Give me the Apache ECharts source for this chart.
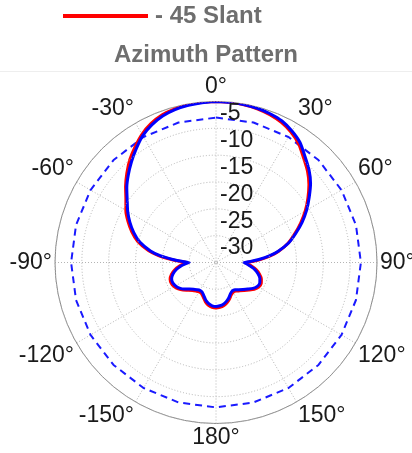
<!DOCTYPE html>
<html>
<head>
<meta charset="utf-8">
<script src="https://cdn.jsdelivr.net/npm/echarts@6/dist/echarts.min.js"></script>
<style>
html,body{margin:0;padding:0;background:#fff;}
#chart{width:412px;height:453px;}
</style>
</head>
<body>
<div id="chart"></div>
<script>
// Angles (degrees, clockwise from top)
const angles = [0,5,10,15,20,25,30,35,40,45,50,55,60,65,70,75,80,83,86,88,90,92,95,100,105,110,115,120,125,130,135,140,145,150,155,160,165,170,175,180,185,190,195,200,205,210,215,220,225,230,235,240,245,250,255,260,265,268,270,272,274,277,280,285,290,295,300,305,310,315,320,325,330,335,340,345,350,355,360];
// Blue trace (dB)
const blueDb = [0,-0.05,-0.1,-0.25,-0.5,-0.9,-1.7,-2.7,-4.2,-5.5,-7.0,-8.8,-10.5,-12.3,-14.2,-16.0,-18.3,-20.0,-22.0,-23.4,-24.8,-24.4,-23.8,-22.7,-21.9,-21.3,-21.0,-21.1,-21.6,-22.3,-22.9,-23.4,-23.8,-23.9,-23.6,-23.0,-22.5,-22.1,-21.9,-21.8,-21.9,-22.2,-22.7,-23.4,-23.9,-24.0,-23.8,-23.5,-23.0,-22.3,-21.7,-21.3,-21.1,-21.2,-21.7,-22.5,-23.6,-24.4,-25.0,-23.6,-21.9,-19.5,-17.6,-15.3,-13.7,-12.3,-11.0,-9.8,-8.3,-6.9,-5.5,-4.1,-2.7,-1.7,-0.95,-0.5,-0.25,-0.1,0];
// Red trace "- 45 Slant" (dB)
const slantDb = [0,-0.05,-0.15,-0.35,-0.7,-1.2,-2.0,-3.1,-4.6,-5.9,-7.4,-9.1,-10.8,-12.6,-14.4,-16.1,-18.2,-19.8,-21.6,-23.0,-24.6,-24.2,-23.5,-22.4,-21.6,-21.0,-20.7,-20.8,-21.3,-22.0,-22.6,-23.1,-23.5,-23.6,-23.3,-22.7,-22.2,-21.8,-21.6,-21.5,-21.6,-21.9,-22.4,-23.1,-23.6,-23.7,-23.5,-23.2,-22.7,-22.0,-21.4,-21.0,-20.8,-20.9,-21.4,-22.2,-23.3,-24.1,-24.8,-23.2,-21.5,-19.1,-17.2,-14.9,-13.3,-11.9,-10.6,-9.5,-8.0,-6.5,-5.0,-3.7,-2.4,-1.4,-0.7,-0.35,-0.15,-0.05,0];
// -3 dB reference (dashed circle)
const refAngles = [0,15,30,45,60,75,90,105,120,135,150,165,180,195,210,225,240,255,270,285,300,315,330,345,360];
const refDb = [-3,-3,-3,-3,-3,-3,-3,-3,-3,-3,-3,-3,-3,-3,-3,-3,-3,-3,-3,-3,-3,-3,-3,-3,-3];
// Tick labels
const angleLabels = ['0°','30°','60°','90°','120°','150°','180°','-150°','-120°','-90°','-60°','-30°'];
const radialLabels = ['-30','-25','-20','-15','-10','-5',''];

const seriesName = '- 45 Slant';
const titleText = 'Azimuth Pattern';

const pair = (vals, angs) => vals.map((v, i) => [v, angs[i]]);

const chart = echarts.init(document.getElementById('chart'), null, {renderer: 'canvas'});
chart.setOption({
  animation: false,
  backgroundColor: '#ffffff',
  textStyle: {fontFamily: '"Liberation Sans", Arial, sans-serif'},
  title: {
    text: titleText,
    left: 'center',
    top: 43,
    padding: 0,
    textStyle: {fontSize: 24, fontWeight: 'bold', color: '#6e6e6e', fontFamily: '"Liberation Sans", Arial, sans-serif'}
  },
  legend: {
    data: [{name: seriesName, icon: 'rect'}],
    left: 63,
    top: 4,
    padding: 0,
    itemWidth: 85,
    itemHeight: 4,
    itemGap: 0,
    textStyle: {fontSize: 24, fontWeight: 'bold', color: '#6e6e6e', padding: [0,0,0,2], fontFamily: '"Liberation Sans", Arial, sans-serif'}
  },
  graphic: [{
    type: 'line', shape: {x1: 0, y1: 71.5, x2: 412, y2: 71.5},
    style: {stroke: '#eeeeee', lineWidth: 1}, silent: true
  }],
  polar: {center: [216, 262.5], radius: 161},
  angleAxis: {
    type: 'value', min: 0, max: 360, interval: 30,
    startAngle: 90, clockwise: true,
    axisLine: {show: true, lineStyle: {color: '#8a8a8a', width: 1}},
    axisTick: {show: false},
    axisLabel: {
      margin: 3, fontSize: 23, color: '#1a1a1a',
      fontFamily: '"Liberation Sans", Arial, sans-serif',
      formatter: v => angleLabels[Math.round(v / 30)] || ''
    },
    splitLine: {show: true, lineStyle: {color: '#b4b4b4', type: [1, 2], width: 1}}
  },
  radiusAxis: {
    type: 'value', min: -30, max: 0, interval: 5,
    axisLine: {show: false},
    axisTick: {show: false},
    axisLabel: {
      show: true, margin: -4, align: 'left', verticalAlign: 'bottom',
      padding: [0, 0, 3, 0],
      fontSize: 23, color: '#1a1a1a',
      fontFamily: '"Liberation Sans", Arial, sans-serif',
      showMinLabel: true, showMaxLabel: false,
      formatter: v => radialLabels[Math.round((v + 30) / 5)] || ''
    },
    splitLine: {show: true, lineStyle: {color: '#b4b4b4', type: [1, 2], width: 1}},
    z: 5
  },
  series: [
    {
      name: 'ref', type: 'line', coordinateSystem: 'polar',
      data: pair(refDb, refAngles), showSymbol: false, smooth: false,
      lineStyle: {color: '#1a1aff', width: 2, type: [7, 5]}, z: 2, silent: true
    },
    {
      name: seriesName, type: 'line', coordinateSystem: 'polar',
      data: pair(slantDb, angles), showSymbol: false, smooth: 0.2,
      lineStyle: {color: '#ff0000', width: 3}, itemStyle: {color: '#ff0000'}, z: 3
    },
    {
      name: 'blue', type: 'line', coordinateSystem: 'polar',
      data: pair(blueDb, angles), showSymbol: false, smooth: 0.2,
      lineStyle: {color: '#0000ff', width: 3}, itemStyle: {color: '#0000ff'}, z: 4
    }
  ]
});
</script>
</body>
</html>
